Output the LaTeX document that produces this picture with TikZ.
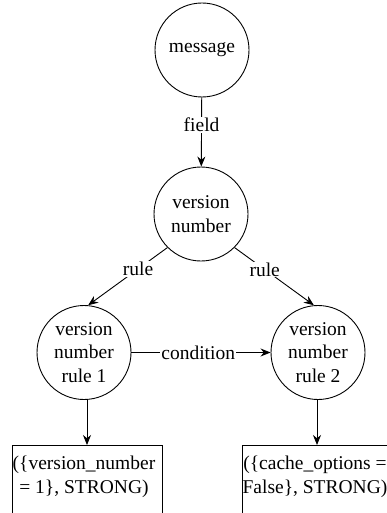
\documentclass[tikz,border=0pt]{standalone}
\usepackage{fontspec}
\setmainfont{Liberation Serif}
\usetikzlibrary{arrows.meta}
\begin{document}
\begin{tikzpicture}[x=1pt,y=-1pt,
  every node/.style={font=\fontsize{19.5}{23.5}\selectfont},
  circ/.style={circle,draw,line width=0.9pt,minimum size=94pt,inner sep=0pt,align=center},
  boxnode/.style={draw,line width=0.9pt,minimum width=150pt,minimum height=90pt,anchor=north},
  txt/.style={align=center,inner sep=0pt},
  lbl/.style={fill=white,inner sep=1pt},
  conn/.style={line width=0.9pt,-{Stealth[length=10pt,width=8pt]}}]
\useasboundingbox (0,0) rectangle (387,513);
\clip (0,0) rectangle (387,513);
\node[circ] (msg) at (202,50) {message};
\node[circ] (ver) at (201,214) {version\\number};
\node[circ] (r1) at (84,352.5) {version\\number\\rule 1};
\node[circ] (r2) at (318,352.5) {version\\number\\rule 2};
\node[boxnode] (b1) at (87,445) {};
\node[boxnode] (b2) at (317,445) {};
\node[txt] (t1) at (84,477) {(\{version\_number\\= 1\}, STRONG)};
\node[txt] (t2) at (315,477) {(\{cache\_options =\\False\}, STRONG)};
\draw[conn] (msg) -- node[lbl,pos=0.4] {field} (ver);
\draw[conn] (ver.225) -- node[lbl,pos=0.37] {rule} (r1.85);
\draw[conn] (ver.-45) -- node[lbl,pos=0.38] {rule} (r2.95);
\draw[conn] (r1) -- node[lbl,pos=0.48] {condition} (r2);
\draw[conn] (r1.south -| b1.north) -- (b1.north);
\draw[conn] (r2.south -| b2.north) -- (b2.north);
\end{tikzpicture}
\end{document}
